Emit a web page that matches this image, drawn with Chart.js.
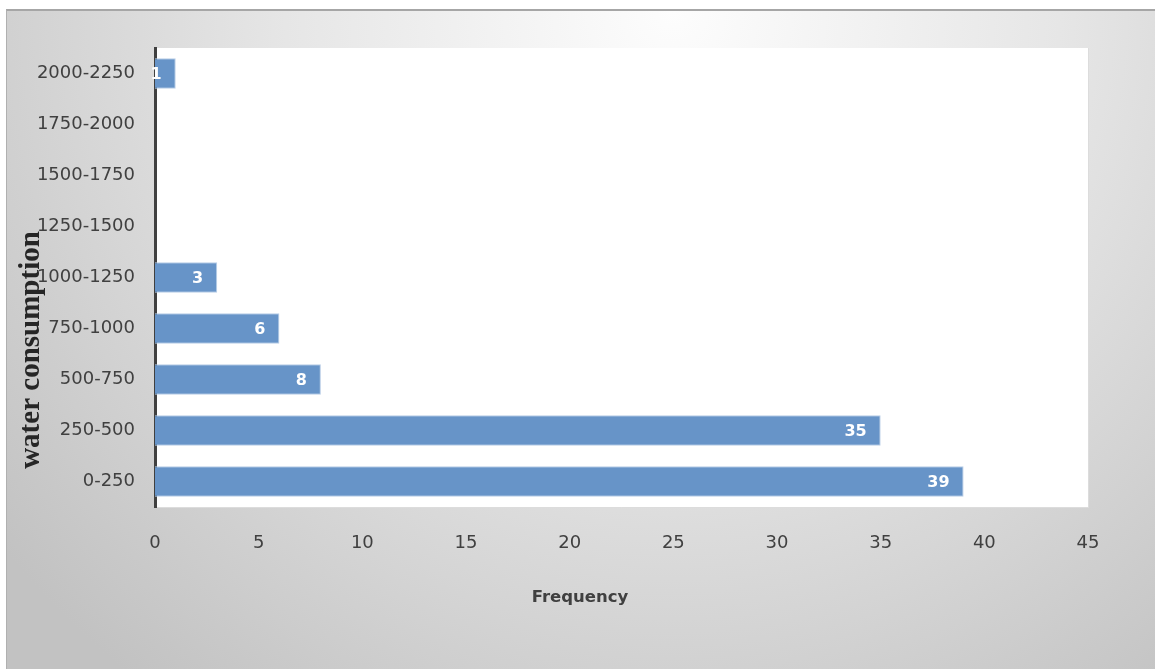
<!DOCTYPE html>
<html>
<head>
<meta charset="utf-8">
<script src="https://cdn.jsdelivr.net/npm/chart.js@4/dist/chart.umd.min.js"></script>
<style>
    html, body { margin: 0; padding: 0; background: #fff; }
    #frame {
        position: absolute;
        left: 6px; top: 9px;
        width: 1149px; height: 660px;
        border-top: 2px solid #a6a6a6;
        border-left: 1px solid #b0b0b0;
        box-sizing: border-box;
        background: radial-gradient(ellipse 75% 130% at 58% 0%, #fdfdfd 0%, #e6e6e6 45%, #c2c2c2 100%);
    }
    #chart { position: absolute; left: 0; top: 0; }
</style>
</head>
<body>
<div id="frame"></div>
<canvas id="chart" width="1155" height="669"></canvas>
<script>
// Water consumption classes and how many households fall in each
const ranges = ['0-250', '250-500', '500-750', '750-1000', '1000-1250',
                '1250-1500', '1500-1750', '1750-2000', '2000-2250'];
const frequency = [39, 35, 8, 6, 3, 0, 0, 0, 1];
const xTicks = [0, 5, 10, 15, 20, 25, 30, 35, 40, 45];

const labelFont = '"DejaVu Sans", Verdana, sans-serif';

// White plot area with a faint edge
const plotBackground = {
    id: 'plotBackground',
    beforeDraw: (chart) => {
        const { ctx, chartArea: a } = chart;
        ctx.save();
        ctx.fillStyle = '#ffffff';
        ctx.fillRect(a.left, a.top, a.right - a.left, a.bottom - a.top);
        ctx.strokeStyle = '#dcdcdc';
        ctx.lineWidth = 1;
        ctx.beginPath();
        ctx.moveTo(a.left, a.bottom + 0.5);
        ctx.lineTo(a.right + 0.5, a.bottom + 0.5);
        ctx.lineTo(a.right + 0.5, a.top);
        ctx.stroke();
        ctx.restore();
    }
};

// Value labels inside the bar ends
const barValues = {
    id: 'barValues',
    afterDatasetsDraw: (chart) => {
        const ctx = chart.ctx;
        const meta = chart.getDatasetMeta(0);
        ctx.save();
        ctx.font = 'bold 16px ' + labelFont;
        ctx.fillStyle = '#ffffff';
        ctx.textAlign = 'right';
        ctx.textBaseline = 'middle';
        meta.data.forEach((bar, i) => {
            const v = frequency[i];
            if (!v) return;
            ctx.fillText(String(v), bar.x - 14, bar.y + 1);
        });
        ctx.restore();
    }
};

// Axis titles
const axisTitles = {
    id: 'axisTitles',
    afterDraw: (chart) => {
        const ctx = chart.ctx;
        ctx.save();
        ctx.fillStyle = '#404040';
        ctx.textAlign = 'center';
        ctx.textBaseline = 'middle';
        ctx.font = 'bold 16.5px ' + labelFont;
        ctx.fillText('Frequency', 580, 598);

        ctx.translate(32, 350);
        ctx.rotate(-Math.PI / 2);
        ctx.fillStyle = '#262626';
        ctx.font = 'bold 29px "Liberation Serif", "Times New Roman", serif';
        ctx.fillText('water consumption', 0, 0);
        ctx.restore();
    }
};

new Chart(document.getElementById('chart'), {
    type: 'bar',
    data: {
        labels: ranges,
        datasets: [{
            data: frequency,
            backgroundColor: '#6794c8',
            borderColor: '#b8cde6',
            borderWidth: 1,
            barPercentage: 0.6,
            categoryPercentage: 1.0
        }]
    },
    options: {
        indexAxis: 'y',
        responsive: false,
        animation: false,
        layout: { padding: { top: 48, right: 67, bottom: 0, left: 0 } },
        plugins: {
            legend: { display: false },
            tooltip: { enabled: false }
        },
        scales: {
            x: {
                min: 0,
                max: 45,
                afterBuildTicks: (scale) => {
                    scale.ticks = xTicks.map(v => ({ value: v }));
                },
                afterFit: (scale) => { scale.height = 162; },
                grid: { display: false, drawTicks: false },
                border: { display: false },
                ticks: {
                    color: '#404040',
                    padding: 26,
                    font: { family: labelFont, size: 18 }
                }
            },
            y: {
                reverse: true,
                afterFit: (scale) => { scale.width = 155; },
                grid: { display: false, drawTicks: false },
                border: { display: true, color: '#404040', width: 3 },
                ticks: {
                    color: '#404040',
                    padding: 20,
                    font: { family: labelFont, size: 18 }
                }
            }
        }
    },
    plugins: [plotBackground, barValues, axisTitles]
});
</script>
</body>
</html>
